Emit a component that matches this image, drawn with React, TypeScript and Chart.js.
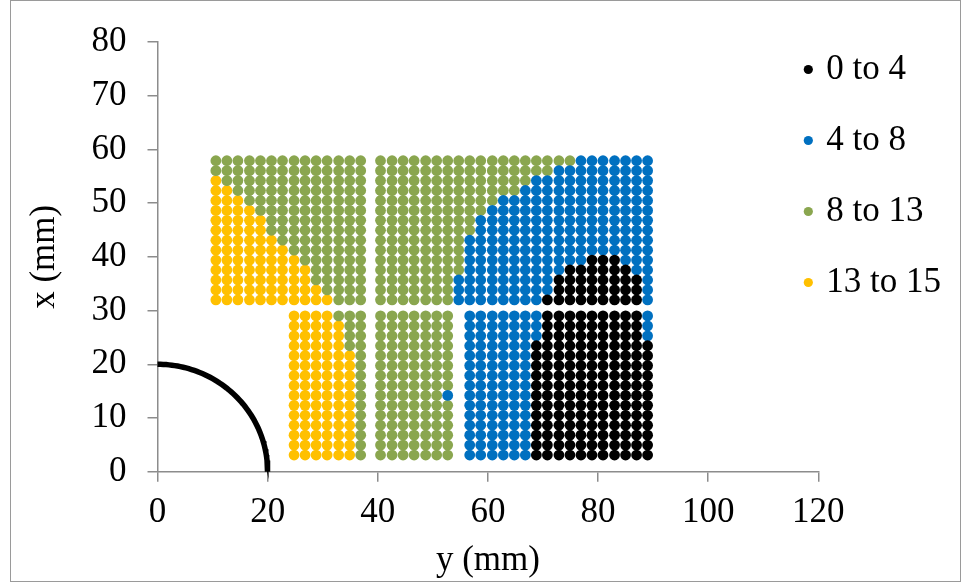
import React, { useEffect, useRef } from 'react';
import { Chart, registerables } from 'chart.js';

Chart.register(...registerables);

// Legend classes, in legend order
const SERIES_LABELS = ['0 to 4', '4 to 8', '8 to 13', '13 to 15'];
const SERIES_CODES = ['k', 'b', 'g', 'y'];
const SERIES_COLORS = ['#000000', '#0070C0', '#8AA64F', '#FFC000'];

// y (mm) of the mesh columns: left block, then right block
const COLS_LEFT = [10.6, 12.6, 14.6, 16.7, 18.7, 20.7, 22.7, 24.8, 26.8, 28.8, 30.8, 32.9, 34.9, 36.9];
const COLS_RIGHT = [
  40.5, 42.6, 44.6, 46.6, 48.7, 50.7, 52.7, 54.7, 56.7, 58.7, 60.8, 62.8, 64.8,
  66.8, 68.8, 70.8, 72.9, 74.9, 76.9, 78.9, 80.9, 83.0, 85.0, 87.0, 89.0,
];

// x (mm) of the mesh rows, top to bottom
const ROWS = [
  57.9, 56.05, 54.2, 52.35, 50.5, 48.65, 46.8, 44.95, 43.1, 41.25, 39.4, 37.55, 35.7, 33.85, 32.0,
  29.0, 27.15, 25.3, 23.45, 21.6, 19.75, 17.9, 16.05, 14.2, 12.35, 10.5, 8.65, 6.8, 4.95, 3.1,
];

// class of every mesh point, one string per row: left block | right block
// k = 0 to 4, b = 4 to 8, g = 8 to 13, y = 13 to 15, . = no point
const GRID = [
  'gggggggggggggg|ggggggggggggggggggbbbbbbb',
  'gggggggggggggg|ggggggggggggggggbbbbbbbbb',
  'yggggggggggggg|ggggggggggggggbbbbbbbbbbb',
  'yygggggggggggg|gggggggggggggbbbbbbbbbbbb',
  'yyyggggggggggg|gggggggggggbbbbbbbbbbbbbb',
  'yyyygggggggggg|ggggggggggbbbbbbbbbbbbbbb',
  'yyyyyggggggggg|gggggggggbbbbbbbbbbbbbbbb',
  'yyyyyggggggggg|gggggggggbbbbbbbbbbbbbbbb',
  'yyyyyygggggggg|ggggggggbbbbbbbbbbbbbbbbb',
  'yyyyyyyggggggg|ggggggggbbbbbbbbbbbbbbbbb',
  'yyyyyyyygggggg|ggggggggbbbbbbbbbbbkkkbbb',
  'yyyyyyyyyggggg|ggggggggbbbbbbbbbkkkkkkbb',
  'yyyyyyyyyggggg|gggggggbbbbbbbbbkkkkkkkkb',
  'yyyyyyyyyygggg|gggggggbbbbbbbbbkkkkkkkkb',
  'yyyyyyyyyyyggg|gggggggbbbbbbbbkkkkkkkkkb',
  '.......yyyyggg|ggggggg.bbbbbbbkkkkkkkkkb',
  '.......yyyyygg|ggggggg.bbbbbbbkkkkkkkkkb',
  '.......yyyyygg|ggggggg.bbbbbbbkkkkkkkkkb',
  '.......yyyyygg|ggggggg.bbbbbbkkkkkkkkkkk',
  '.......yyyyyyg|ggggggg.bbbbbbkkkkkkkkkkk',
  '.......yyyyyyg|ggggggg.bbbbbbkkkkkkkkkkk',
  '.......yyyyyyg|ggggggg.bbbbbbkkkkkkkkkkk',
  '.......yyyyyyg|ggggggg.bbbbbbkkkkkkkkkkk',
  '.......yyyyyyg|ggggggb.bbbbbbkkkkkkkkkkk',
  '.......yyyyyyg|ggggggg.bbbbbbkkkkkkkkkkk',
  '.......yyyyyyg|ggggggg.bbbbbbkkkkkkkkkkk',
  '.......yyyyyyg|ggggggg.bbbbbbkkkkkkkkkkk',
  '.......yyyyyyg|ggggggg.bbbbbbkkkkkkkkkkk',
  '.......yyyyyyg|ggggggg.bbbbbbkkkkkkkkkkk',
  '.......yyyyyyg|ggggggg.bbbbbbkkkkkkkkkkk',
];

// radius (mm) of the hole outline
const HOLE_RADIUS = 20;

const X_TICKS = { min: 0, max: 120, step: 20 };
const Y_TICKS = { min: 0, max: 80, step: 10 };

const FONT_FAMILY = "'Liberation Serif', 'Times New Roman', serif";
const AXIS_COLOR = '#8C8C8C';
const W = 963;
const H = 582;

function pointsFor(code: string) {
  const cols = [...COLS_LEFT, ...COLS_RIGHT];
  const pts: { x: number; y: number }[] = [];
  GRID.forEach((line, r) => {
    const cells = line.replace('|', '');
    for (let c = 0; c < cells.length; c++) {
      if (cells[c] === code) pts.push({ x: cols[c], y: ROWS[r] });
    }
  });
  return pts;
}

function holeArc() {
  const pts: { x: number; y: number }[] = [];
  const n = 60;
  for (let i = 0; i <= n; i++) {
    const a = (i / n) * (Math.PI / 2);
    pts.push({ x: HOLE_RADIUS * Math.sin(a), y: HOLE_RADIUS * Math.cos(a) });
  }
  return pts;
}

// places the legend box over the right part of the plot
const legendPlacement = {
  id: 'legendPlacement',
  afterLayout(chart: any) {
    const lg = chart.legend;
    if (!lg) return;
    lg.left = 771.8;
    lg.right = W;
    lg.top = 16;
    lg.bottom = H;
    lg.width = lg.right - lg.left;
    lg.height = lg.bottom - lg.top;
  },
};

export default function App() {
  const canvasRef = useRef<HTMLCanvasElement | null>(null);

  useEffect(() => {
    const canvas = canvasRef.current;
    if (!canvas) return;

    const datasets: any[] = SERIES_LABELS.map((label, i) => ({
      label,
      data: pointsFor(SERIES_CODES[i]),
      backgroundColor: SERIES_COLORS[i],
      borderColor: SERIES_COLORS[i],
      pointBackgroundColor: SERIES_COLORS[i],
      pointBorderWidth: 0,
      pointRadius: 5.4,
      pointHoverRadius: 5.4,
      pointStyle: 'circle',
      showLine: false,
      borderWidth: 0,
    }));

    datasets.push({
      label: 'hole',
      data: holeArc(),
      showLine: true,
      borderColor: '#000000',
      backgroundColor: '#000000',
      borderWidth: 5.5,
      pointRadius: 0,
      pointHoverRadius: 0,
      fill: false,
      tension: 0,
      clip: false,
    });

    const tickFont = { family: FONT_FAMILY, size: 35 };

    const chart = new Chart(canvas, {
      type: 'scatter',
      data: { datasets },
      options: {
        responsive: false,
        animation: false,
        devicePixelRatio: 1,
        layout: { padding: { left: 0, top: 39.5, right: W - 818.3, bottom: 0 } },
        plugins: {
          tooltip: { enabled: false },
          legend: {
            position: 'chartArea',
            align: 'start',
            labels: {
              usePointStyle: true,
              boxWidth: 1,
              boxHeight: 6.5,
              padding: 36,
              color: '#000000',
              font: { family: FONT_FAMILY, size: 35 },
              filter: (item: any) => item.text !== 'hole',
            },
          },
        },
        scales: {
          x: {
            type: 'linear',
            min: X_TICKS.min,
            max: X_TICKS.max,
            afterFit: (scale: any) => {
              scale.height = H - 471.7;
            },
            ticks: { stepSize: X_TICKS.step, padding: 10, color: '#000000', font: tickFont },
            grid: {
              display: true,
              drawOnChartArea: false,
              drawTicks: true,
              tickLength: 10,
              color: AXIS_COLOR,
              lineWidth: 1.5,
            },
            border: { display: true, color: AXIS_COLOR, width: 1.5 },
            title: {
              display: true,
              text: 'y (mm)',
              color: '#000000',
              font: { family: FONT_FAMILY, size: 35 },
              padding: { top: 0, bottom: 0 },
            },
          },
          y: {
            type: 'linear',
            min: Y_TICKS.min,
            max: Y_TICKS.max,
            afterFit: (scale: any) => {
              scale.width = 157.5;
            },
            ticks: { stepSize: Y_TICKS.step, padding: 21, color: '#000000', font: tickFont },
            grid: {
              display: true,
              drawOnChartArea: false,
              drawTicks: true,
              tickLength: 10,
              color: AXIS_COLOR,
              lineWidth: 1.5,
            },
            border: { display: true, color: AXIS_COLOR, width: 1.5 },
            title: {
              display: true,
              text: 'x (mm)',
              color: '#000000',
              font: { family: FONT_FAMILY, size: 35 },
              padding: { top: 24, bottom: 0 },
            },
          },
        },
      },
      plugins: [legendPlacement],
    } as any);

    return () => chart.destroy();
  }, []);

  return (
    <div style={{ position: 'fixed', left: 0, top: 0, width: W, height: H, background: '#ffffff' }}>
      <canvas ref={canvasRef} width={W} height={H} style={{ position: 'absolute', left: 0, top: 0, width: W, height: H }} />
      <div
        style={{
          position: 'absolute',
          left: 10,
          top: 0,
          width: W - 12,
          height: H,
          border: '1px solid #9a9a9a',
          boxSizing: 'border-box',
          pointerEvents: 'none',
        }}
      />
    </div>
  );
}
